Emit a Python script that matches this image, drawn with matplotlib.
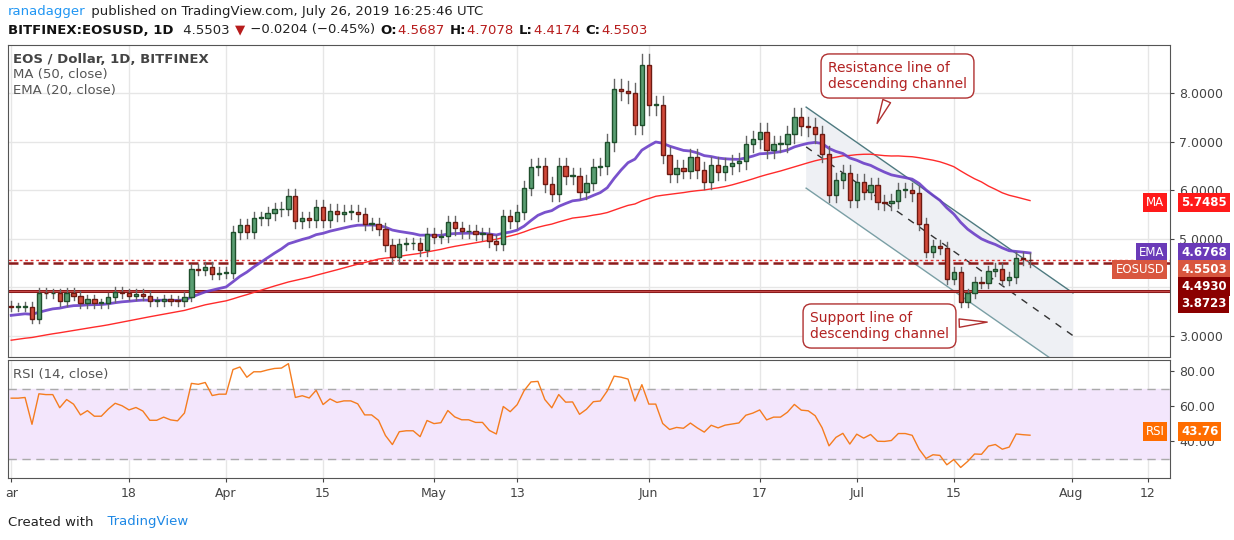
import numpy as np
import matplotlib
matplotlib.use("Agg")
import matplotlib.pyplot as plt
from matplotlib.patches import Polygon

# ---- data ----
pre_closes = [2.60,2.58,2.56,2.55,2.62,2.66,2.64,2.68,2.60,2.56,2.54,2.52,2.58,2.56,2.50,2.46,
              2.45,2.42,2.40,2.44,2.42,2.40,2.40,2.48,2.46,2.45,2.45,2.48,2.85,2.95,3.00,
              3.05,3.02,3.10,3.15,3.20,3.28,3.40,3.60,3.75,3.70,3.82,3.75,3.62,3.52,3.65,
              3.66,3.58,3.62]
closes = [3.59,3.59,3.60,3.34,3.88,3.87,3.87,3.71,3.88,3.82,3.67,3.75,3.67,3.67,3.79,3.90,
          3.87,3.82,3.86,3.82,3.71,3.71,3.75,3.72,3.71,3.80,4.37,4.36,4.41,4.27,4.30,4.30,
          5.13,5.28,5.14,5.42,5.42,5.52,5.60,
          5.62,5.88,5.36,5.42,5.38,5.65,5.38,5.57,5.50,5.55,5.55,5.50,5.30,5.30,5.20,4.87,
          4.62,4.88,4.90,4.90,4.76,5.10,5.03,5.05,5.34,5.21,5.15,5.15,5.10,5.10,4.95,4.88,
          5.46,5.36,5.55,
          6.04,6.47,6.50,6.12,5.92,6.49,6.29,6.30,5.96,6.15,6.47,6.50,6.99,8.08,8.05,8.00,
          7.34,8.58,7.75,7.75,6.72,6.33,6.45,6.40,6.68,6.41,6.17,6.51,6.37,6.50,6.55,6.60,
          6.95,7.05,7.20,6.83,6.95,6.95,7.15,7.50,
          7.32,7.30,7.15,6.74,5.90,6.20,6.35,5.79,6.17,5.96,6.10,5.75,5.74,5.77,6.00,6.00,
          5.93,5.30,4.73,4.84,4.80,4.16,4.31,3.69,3.87,4.10,4.08,4.33,4.38,4.14,4.20,4.60,
          4.57,4.5503]
tick_pos = [0, 17, 31, 45, 61, 73, 92, 108, 122, 136, 153, 164]
tick_lab = ["ar", "18", "Apr", "15", "May", "13", "Jun", "17", "Jul", "15", "Aug", "12"]
support1, support2 = 3.92, 4.493
last_price, ema_label, ma_label = 4.5503, 4.6768, 5.7485

allc = np.array(pre_closes + closes)
npre = len(pre_closes)
n = len(closes)
x = np.arange(n)
c = np.array(closes)
o = np.concatenate([[pre_closes[-1]], c[:-1]])
o[-1] = 4.5687
hi = np.maximum(o, c) * 1.025
lo = np.minimum(o, c) * 0.975
hi[-1], lo[-1] = 4.7078, 4.4174

ma = np.array([allc[max(0, i-49):i+1].mean() for i in range(len(allc))])[npre:]
k = 2/21
e = [allc[0]]
for v in allc[1:]:
    e.append(v*k + e[-1]*(1-k))
ema = np.array(e)[npre:]
d = np.diff(allc)
g = np.where(d > 0, d, 0); l = np.where(d < 0, -d, 0)
ag, al = g[:14].mean(), l[:14].mean()
rsi_all = [np.nan]*15
for i in range(14, len(d)):
    ag = (ag*13 + g[i])/14; al = (al*13 + l[i])/14
    rsi_all.append(100 - 100/(1+ag/al))
rsi = np.array(rsi_all[:len(allc)])[npre:]

# ---- figure ----
fig = plt.figure(figsize=(12.34, 5.4), dpi=100)
W, H = 1234, 540
def box(l, t, r, b):
    return [l/W, 1-b/H, (r-l)/W, (b-t)/H]
ax = fig.add_axes(box(8, 45, 1170, 357))
ax2 = fig.add_axes(box(8, 360, 1170, 478), sharex=ax)
xl = (-0.46, 167.2)
grid_c = "#e6e6e6"
for a in (ax, ax2):
    a.set_xlim(*xl)
    for p in tick_pos:
        a.axvline(p, color=grid_c, lw=1, zorder=0)
    for s in a.spines.values():
        s.set_color("#555555")
    a.yaxis.tick_right()
    a.tick_params(axis="y", colors="#444", labelsize=9, length=3, direction="out")
ax.set_ylim(2.56, 8.99)
ax.set_yticks([3, 5, 6, 7, 8])
ax.set_yticklabels(["3.0000", "5.0000", "6.0000", "7.0000", "8.0000"])
for v in range(3, 9):
    ax.axhline(v, color=grid_c, lw=1, zorder=0)
ax.tick_params(axis="x", bottom=False, labelbottom=False)

# channel
x0c, x1c = 114.7, 153.2
up = (7.71, 3.88); lw_ = (6.04, 2.21)
ax.add_patch(Polygon([(x0c, up[0]), (x1c, up[1]), (x1c, lw_[1]), (x0c, lw_[0])],
                     closed=True, facecolor="#eef0f4", edgecolor="none", zorder=1))
ax.plot([x0c, x1c], up, color="#4e7a80", lw=1, zorder=2)
ax.plot([x0c, x1c], lw_, color="#7a9fa5", lw=1, zorder=2)
ax.plot([x0c, x1c], [6.89, 3.0], color="#333", lw=1, ls=(0, (5, 5)), zorder=2)

# horizontal lines
ax.axhline(support1, color="#8b1a1a", lw=2.2, zorder=2)
ax.axhline(support1, color="#d05050", lw=0.6, zorder=2)
ax.axhline(support2, color="#8b1a1a", lw=1.8, ls=(0, (4, 2)), zorder=2)
ax.axhline(last_price, color="#e03030", lw=1, ls=(0, (2, 2)), zorder=2)

ax.plot(x, ma, color="#ff2b2b", lw=1, zorder=3)
ax.plot(x, ema, color="#6b3fc7", lw=2, zorder=3, alpha=0.9)

for i in range(n):
    up_ = c[i] >= o[i]
    fc = "#5a9e72" if up_ else "#d24a3a"
    ec = "#1f4f2c" if up_ else "#6d1a12"
    ax.plot([x[i], x[i]], [lo[i], hi[i]], color="#666", lw=1, zorder=4)
    bot, ht = min(o[i], c[i]), max(abs(c[i]-o[i]), 0.015)
    ax.bar(x[i], ht, bottom=bot, width=0.62, color=fc, edgecolor=ec, lw=1, zorder=5)

def plabel(a, y, txt, fc, name=None):
    a.annotate(txt, xy=(1.0, y), xycoords=("axes fraction", "data"), xytext=(8, 0),
               textcoords="offset points", va="center", ha="left", color="white",
               fontsize=8.5, fontweight="bold", annotation_clip=False, zorder=20,
               bbox=dict(boxstyle="square,pad=0.25", fc=fc, ec="none"))
    if name:
        a.annotate(name, xy=(1.0, y), xycoords=("axes fraction", "data"), xytext=(-4, 0),
                   textcoords="offset points", va="center", ha="right", color="white",
                   fontsize=8.5, annotation_clip=False, zorder=20,
                   bbox=dict(boxstyle="square,pad=0.25", fc=fc, ec="none"))
plabel(ax, ma_label, "5.7485", "#ff1a1a", "MA")
plabel(ax, 4.72, "4.6768", "#6a3ab8", "EMA")
plabel(ax, 4.37, "4.5503", "#d9573f", "EOSUSD")
plabel(ax, 4.02, "4.4930", "#8b0000")
plabel(ax, 3.67, "3.8723", "#8b0000")

# callouts
def callout(xy_box, text, tip):
    ax.annotate(text, xy=tip, xycoords="figure pixels", xytext=xy_box, textcoords="figure pixels",
                fontsize=10, color="#b22222", ha="left", va="center", zorder=10,
                bbox=dict(boxstyle="round,pad=0.5,rounding_size=0.6", fc="white", ec="#b03030", lw=1),
                arrowprops=dict(arrowstyle="wedge,tail_width=0.6", fc="white", ec="#b03030", lw=1))
callout((828, H-76), "Resistance line of\ndescending channel", (876, H-126))
callout((810, H-326), "Support line of\ndescending channel", (990, H-322))

ax.text(0.004, 0.955, "EOS / Dollar, 1D, BITFINEX", transform=ax.transAxes, fontsize=9.5,
        color="#444", fontweight="bold", va="center")
ax.text(0.004, 0.905, "MA (50, close)", transform=ax.transAxes, fontsize=9.5, color="#555", va="center")
ax.text(0.004, 0.853, "EMA (20, close)", transform=ax.transAxes, fontsize=9.5, color="#555", va="center")

# RSI
ax2.set_ylim(18.9, 86.3)
ax2.axhspan(30, 70, color="#f3e6fc", zorder=0)
ax2.axhline(70, color="#aaa", lw=1, ls=(0, (6, 4)))
ax2.axhline(30, color="#aaa", lw=1, ls=(0, (6, 4)))
ax2.set_yticks([40, 60, 80])
ax2.set_yticklabels(["40.00", "60.00", "80.00"])
ax2.plot(x, rsi, color="#f57c1f", lw=1)
plabel(ax2, 45.5, "43.76", "#ff6d00", "RSI")
ax2.text(0.004, 0.85, "RSI (14, close)", transform=ax2.transAxes, fontsize=9.5, color="#555")
ax2.set_xticks(tick_pos)
ax2.set_xticklabels(tick_lab)
ax2.tick_params(axis="x", colors="#444", labelsize=9, length=3)

# header, laid out piece by piece
fig.canvas.draw()
rend = fig.canvas.get_renderer()
def row(y, pieces):
    xp = 8
    for txt, col, bold in pieces:
        t = fig.text(xp/W, 1-y/H, txt, color=col, fontsize=9.5, va="center",
                     fontweight="bold" if bold else "normal")
        xp += t.get_window_extent(rend).width + 1
row(12, [("ranadagger", "#2196f3", False),
         (" published on TradingView.com, July 26, 2019 16:25:46 UTC", "#222", False)])
row(30, [("BITFINEX:EOSUSD, 1D ", "#111", True), (" 4.5503 ", "#222", False),
         ("\u25bc", "#b71c1c", False), (" \u22120.0204 (\u22120.45%) ", "#222", False),
         ("O:", "#111", True), ("4.5687 ", "#b71c1c", False),
         ("H:", "#111", True), ("4.7078 ", "#b71c1c", False),
         ("L:", "#111", True), ("4.4174 ", "#b71c1c", False),
         ("C:", "#111", True), ("4.5503", "#b71c1c", False)])
row(522, [("Created with ", "#222", False), ("  TradingView", "#1e88e5", False)])

fig.savefig("out.png", dpi=100)
